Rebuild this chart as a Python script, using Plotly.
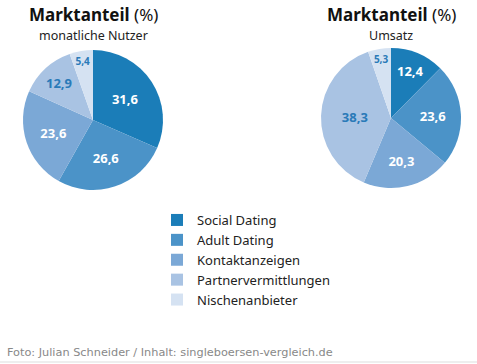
import plotly.graph_objects as go

categories = ["Social Dating", "Adult Dating", "Kontaktanzeigen", "Partnervermittlungen", "Nischenanbieter"]
nutzer_values = [31.6, 26.6, 23.6, 12.9, 5.4]
umsatz_values = [12.4, 23.6, 20.3, 38.3, 5.3]
colors = ["#1b7db8", "#4b93c8", "#7ba8d6", "#a9c3e3", "#d5e2f2"]
label_colors = ["#ffffff", "#ffffff", "#ffffff", "#2a7ab8", "#2a7ab8"]

W, H = 477, 364

def dom(cx, cy, r):
    return dict(x=[(cx - r) / W, (cx + r) / W], y=[1 - (cy + r) / H, 1 - (cy - r) / H])

fig = go.Figure()
for i, (vals, d) in enumerate([(nutzer_values, dom(93, 120, 70)), (umsatz_values, dom(391, 118, 70))]):
    fig.add_trace(go.Pie(
        labels=categories, values=vals, sort=False, direction="clockwise", rotation=0,
        marker=dict(colors=colors, line=dict(width=0)),
        texttemplate="<b>%{value:.1f}</b>", textposition="inside", insidetextorientation="horizontal",
        insidetextfont=dict(color=label_colors, size=13, family="Noto Sans"),
        domain=d, showlegend=(i == 0), hoverinfo="label+value",
    ))

ann = []
for cx, sub in [(93, "monatliche Nutzer"), (391, "Umsatz")]:
    ann.append(dict(x=cx / W, y=1 - 15 / H, xref="paper", yref="paper", showarrow=False,
                    xanchor="center", yanchor="middle",
                    text="<b>Marktanteil</b> (%)", font=dict(size=17, family="Noto Sans", color="#111")))
    ann.append(dict(x=cx / W, y=1 - 35 / H, xref="paper", yref="paper", showarrow=False,
                    xanchor="center", yanchor="middle",
                    text=sub, font=dict(size=12.5, family="Noto Sans", color="#222")))
ann.append(dict(x=5 / W, y=1 - 352 / H, xref="paper", yref="paper", showarrow=False,
                xanchor="left", yanchor="middle",
                text="Foto: Julian Schneider / Inhalt: singleboersen-vergleich.de",
                font=dict(size=11.3, family="DejaVu Sans", color="#888")))

fig.update_layout(
    width=W, height=H, margin=dict(l=0, r=0, t=0, b=0),
    paper_bgcolor="white", plot_bgcolor="white",
    separators=",.",
    annotations=ann,
    legend=dict(x=157 / W, y=1 - 205 / H, xanchor="left", yanchor="top",
                font=dict(size=13, family="Noto Sans", color="#222"), tracegroupgap=0),
    shapes=[dict(type="line", xref="paper", yref="paper", x0=0, x1=1, y0=1 - 362 / H, y1=1 - 362 / H,
                 line=dict(color="#ddd", width=1))],
)
fig.write_html("out.html", config={"displayModeBar": False},
               post_script="document.body.style.margin='0';document.body.style.padding='0';")
